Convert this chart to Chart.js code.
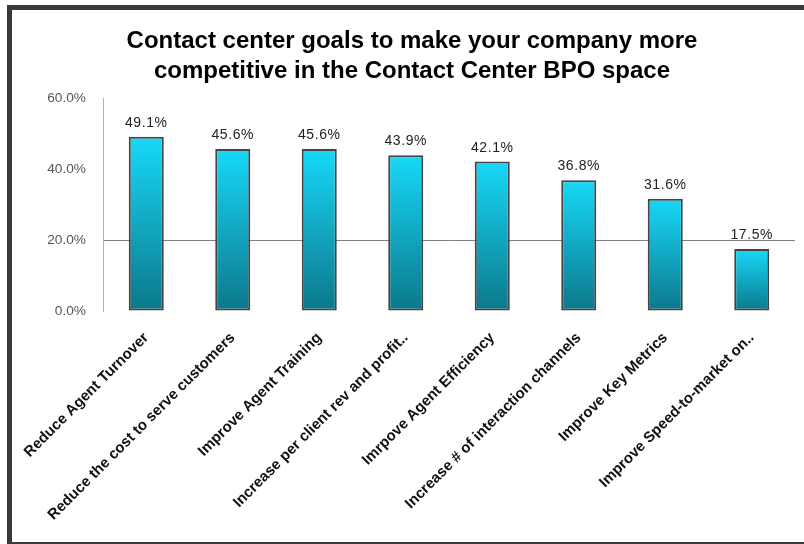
<!DOCTYPE html>
<html>
<head>
<meta charset="utf-8">
<title>Contact center goals</title>
<script src="https://cdn.jsdelivr.net/npm/chart.js@4/dist/chart.umd.min.js"></script>
<style>
    html, body {
        margin: 0;
        padding: 0;
        background: #fff;
        overflow: hidden;
    }

    .frame {
        position: absolute;
        left: 7px;
        top: 5px;
        width: 820px;
        height: 539px;
        box-sizing: border-box;
        border-left: 5px solid #3a3a3a;
        border-top: 5px solid #3a3a3a;
        border-bottom: 2px solid #3a3a3a;
    }

    #goalsChart {
        position: absolute;
        left: 0;
        top: 0;
    }
</style>
</head>
<body>

<div class="frame"></div>
<canvas id="goalsChart" width="804" height="544"></canvas>

<script>

const goalLabels = [
    "Reduce Agent Turnover",
    "Reduce the cost to serve customers",
    "Improve Agent Training",
    "Increase per client rev and profit..",
    "Imrpove Agent Efficiency",
    "Increase # of interaction channels",
    "Improve Key Metrics",
    "Improve Speed-to-market on.."
];

const goalShares = [
    49.1,
    45.6,
    45.6,
    43.9,
    42.1,
    36.8,
    31.6,
    17.5
];

const shareTicks = [
    0,
    20,
    40,
    60
];

const titleLines = [
    "Contact center goals to make your company more",
    "competitive in the Contact Center BPO space"
];

// one vertical gradient per bar, bright cyan at the top fading to teal
function barGradient(context) {

    const chart =
        context.chart;

    const yScale =
        chart.scales.y;

    if (!chart.chartArea || !yScale || context.raw === undefined) {
        return "#14b8d6";
    }

    const top =
        yScale.getPixelForValue(context.raw);

    const bottom =
        yScale.getPixelForValue(0);

    const gradient =
        chart.ctx.createLinearGradient(0, top, 0, bottom);

    gradient.addColorStop(0, "#17d8f8");
    gradient.addColorStop(1, "#0c788b");

    return gradient;

}

// percentage printed above each bar
const valueLabels = {

    id: "valueLabels",

    afterDatasetsDraw(chart) {

        const ctx =
            chart.ctx;

        const meta =
            chart.getDatasetMeta(0);

        ctx.save();

        ctx.font = "14px 'Liberation Sans', Arial, sans-serif";
        ctx.letterSpacing = "0.6px";
        ctx.fillStyle = "#222";
        ctx.textAlign = "center";
        ctx.textBaseline = "alphabetic";

        meta.data.forEach((bar, i) => {

            ctx.fillText(
                goalShares[i].toFixed(1) + "%",
                bar.x,
                bar.y - 10
            );

        });

        ctx.restore();

    }

};

new Chart(document.getElementById("goalsChart"), {

    type: "bar",

    data: {

        labels: goalLabels,

        datasets: [{

            data: goalShares,

            backgroundColor: barGradient,

            borderColor: "#444",

            borderWidth: 2,

            borderSkipped: false,

            categoryPercentage: 1,

            barPercentage: 0.405

        }]

    },

    options: {

        responsive: false,

        animation: false,

        layout: {
            padding: {
                left: 29,
                right: 9,
                top: 26,
                bottom: 0
            }
        },

        plugins: {

            legend: {
                display: false
            },

            tooltip: {
                enabled: false
            },

            title: {
                display: true,
                text: titleLines,
                color: "#000",
                font: {
                    family: "'Liberation Sans', Arial, sans-serif",
                    size: 24,
                    weight: "bold",
                    lineHeight: 1.25
                },
                padding: {
                    top: 0,
                    bottom: 12
                }
            }

        },

        scales: {

            x: {

                grid: {
                    display: false
                },

                border: {
                    display: false
                },

                ticks: {
                    autoSkip: false,
                    minRotation: 45,
                    maxRotation: 45,
                    padding: 10,
                    color: "#111",
                    font: {
                        family: "'Liberation Sans', Arial, sans-serif",
                        size: 15,
                        weight: "bold"
                    }
                },

                afterFit(scale) {
                    scale.height = 233;
                }

            },

            y: {

                min: 0,

                max: 60,

                afterBuildTicks(scale) {
                    scale.ticks = shareTicks.map(v => ({ value: v }));
                },

                grid: {
                    drawTicks: false,
                    color: (ctx) =>
                        ctx.tick && ctx.tick.value === 20
                            ? "#808080"
                            : "rgba(0,0,0,0)"
                },

                border: {
                    color: "#b4b4b4"
                },

                ticks: {
                    padding: 17,
                    color: "#555",
                    font: {
                        family: "'Liberation Sans', Arial, sans-serif",
                        size: 13.7
                    },
                    callback: (value) => value.toFixed(1) + "%"
                },

                afterFit(scale) {
                    scale.width = 74;
                }

            }

        }

    },

    plugins: [valueLabels]

});

</script>
</body>
</html>
